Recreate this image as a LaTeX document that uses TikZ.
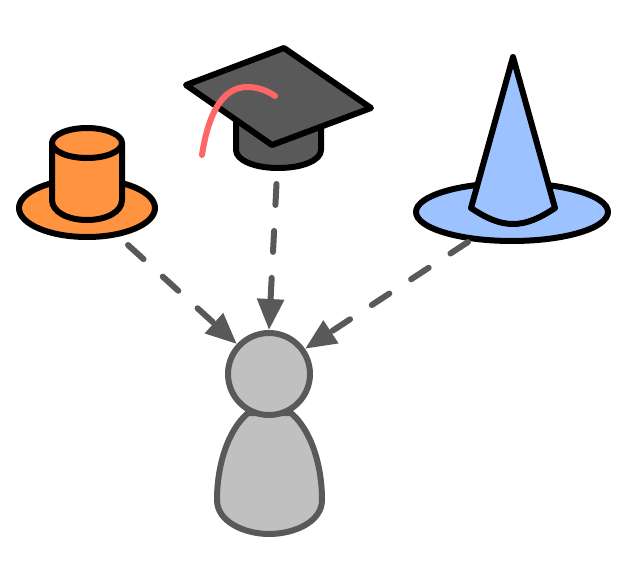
\documentclass[tikz,border=0pt]{standalone}
\usepackage{xcolor}
\usetikzlibrary{arrows.meta,positioning}
\definecolor{hatorange}{HTML}{FF9340}
\definecolor{hatblue}{HTML}{9CC3FF}
\definecolor{capgray}{HTML}{595959}
\definecolor{tasselred}{HTML}{FF6666}
\definecolor{persongray}{HTML}{C0C0C0}
\tikzset{
  hatline/.style={draw=black,line width=6pt,line join=round,line cap=round},
  personline/.style={draw=capgray,fill=persongray,line width=6pt},
  influence/.style={-{Triangle[length=31pt,width=26pt]},draw=capgray,line width=6pt,line cap=round,dash pattern=on 21pt off 26pt},
}
\begin{document}
\begin{tikzpicture}[x=1pt,y=-1pt]
  \useasboundingbox (0,0) rectangle (641,563);
  % top hat
  \draw[hatline,fill=hatorange] (87,208) ellipse [x radius=68,y radius=29];
  \draw[hatline,fill=hatorange] (52,143) -- (52,200) .. controls (52,212) and (68,220) .. (87,220) .. controls (106,220) and (122,212) .. (122,200) -- (122,143);
  \draw[hatline,fill=hatorange] (87,143) ellipse [x radius=35,y radius=15];
  % mortarboard
  \draw[hatline,fill=capgray] (236,120) -- (236,150) .. controls (236,160) and (254,168) .. (278,168) .. controls (303,168) and (321,160) .. (321,150) -- (321,120) -- cycle;
  \draw[hatline,fill=capgray] (186,85) -- (284,48) -- (371,108) -- (272,145) -- cycle;
  \draw[draw=tasselred,line width=6pt,line cap=round] (202,155) .. controls (208,115) and (222,87) .. (247,87) .. controls (258,87) and (268,91) .. (275,96);
  % witch hat
  \draw[hatline,fill=hatblue] (512,212) ellipse [x radius=96,y radius=29];
  \draw[hatline,fill=hatblue] (513,57) -- (555,208) .. controls (540,218) and (527,224) .. (513,224) .. controls (499,224) and (486,218) .. (471,208) -- cycle;
  % person
  \draw[personline] (248,413) .. controls (228,430) and (217,465) .. (217,500) .. controls (217,522) and (245,534) .. (269,534) .. controls (294,534) and (322,522) .. (322,500) .. controls (322,465) and (311,430) .. (291,413) -- cycle;
  \node[circle,personline,minimum size=82pt,inner sep=0pt] (head) at (269,374) {};
  % free ends of the arrows
  \coordinate (tophat) at (128,245);
  \coordinate (mortarboard) at (276.5,184);
  \coordinate (witchhat) at (468,242);
  \draw[influence] (tophat) -- (head.137);
  \draw[influence] (mortarboard) -- (head.90);
  \draw[influence] (witchhat) -- (head.35);
\end{tikzpicture}
\end{document}
